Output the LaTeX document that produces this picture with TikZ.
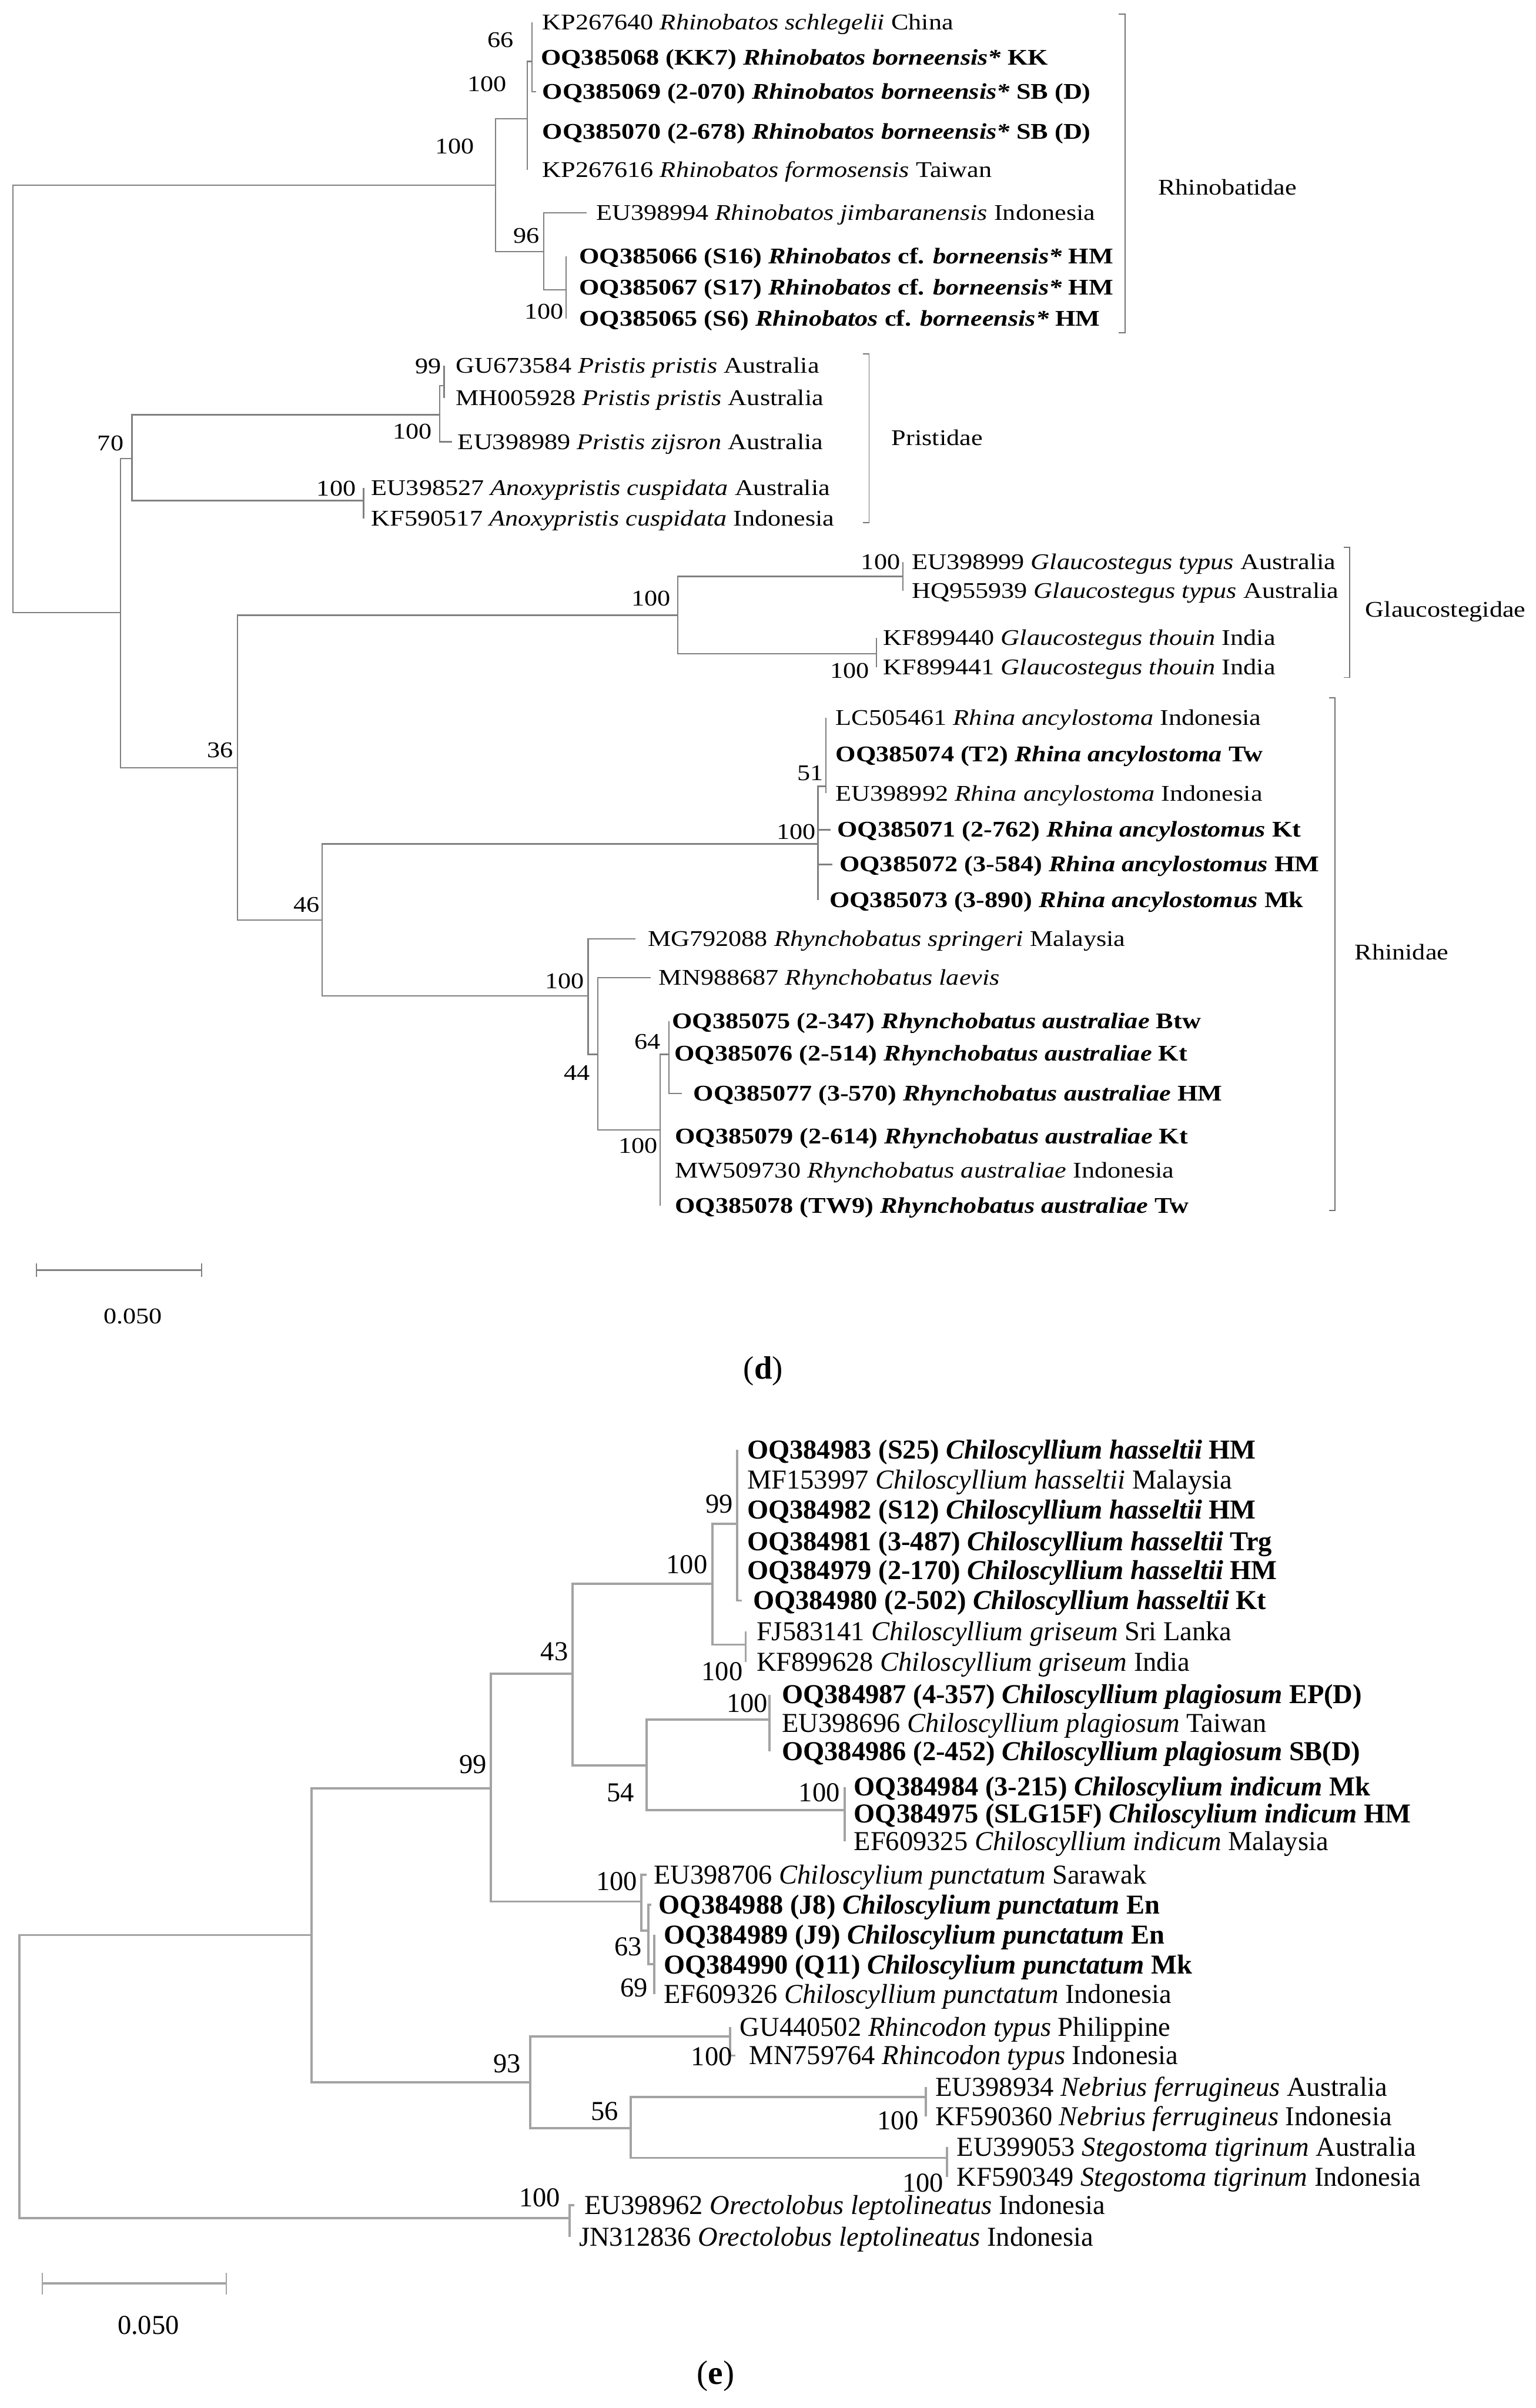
\documentclass[tikz,border=0pt]{standalone}
\usepackage{fontspec}
\setmainfont{Liberation Serif}
\newfontfamily\dfont[FakeStretch=1.16]{Liberation Serif}
\newcommand\dL[5]{\coordinate (#1) at (#2,#4); \node[dlf] (#1t) at (#3,#4) {#5};}
\newcommand\eLf[5]{\coordinate (#1) at (#2,#4); \node[elf] (#1t) at (#3,#4) {#5};}
\begin{document}
\begin{tikzpicture}[x=1pt,y=-1pt,
  dbr/.style={draw=black!50,line width=0.9pt},
  ebr/.style={draw=black!36,line width=1.5pt},
  brk/.style={draw=black!55,line width=0.7pt},
  dtx/.style={inner sep=0pt,font=\dfont\fontsize{14.6}{16}\selectfont,text height=9.6pt,text depth=0pt},
  dlf/.style={dtx,anchor=west},
  dbs/.style={dtx,anchor=center},
  etx/.style={inner sep=0pt,font=\fontsize{17.8}{20}\selectfont,text height=11.7pt,text depth=0pt},
  elf/.style={etx,anchor=west},
  ebs/.style={etx,anchor=center}]
\useasboundingbox (0,0) rectangle (1000,1568);

% ---------------- tree (d) ----------------
\dL{d1}{346.4}{353}{14.7}{KP267640 \textit{Rhinobatos schlegelii} China}
\dL{d2}{346.4}{352}{37.6}{\bfseries OQ385068 (KK7) \textit{Rhinobatos borneensis*} KK}
\dL{d3}{349}{353}{59.6}{\bfseries OQ385069 (2-070) \textit{Rhinobatos borneensis*} SB (D)}
\dL{d4}{343.3}{353}{85.6}{\bfseries OQ385070 (2-678) \textit{Rhinobatos borneensis*} SB (D)}
\dL{d5}{343.3}{353}{110.8}{KP267616 \textit{Rhinobatos formosensis} Taiwan}
\dL{d6}{382}{388}{138.5}{EU398994 \textit{Rhinobatos jimbaranensis} Indonesia}
\dL{d7}{368.7}{377}{167}{\bfseries OQ385066 (S16) \textit{Rhinobatos} cf. \textit{borneensis*} HM}
\dL{d8}{368.7}{377}{187.3}{\bfseries OQ385067 (S17) \textit{Rhinobatos} cf. \textit{borneensis*} HM}
\dL{d9}{368.7}{377}{207.6}{\bfseries OQ385065 (S6) \textit{Rhinobatos} cf. \textit{borneensis*} HM}
\dL{p1}{289.2}{296.7}{238}{GU673584 \textit{Pristis pristis} Australia}
\dL{p2}{289.2}{296.7}{259.3}{MH005928 \textit{Pristis pristis} Australia}
\dL{p3}{294.5}{298}{287.7}{EU398989 \textit{Pristis zijsron} Australia}
\dL{p4}{236.8}{241.7}{317.6}{EU398527 \textit{Anoxypristis cuspidata} Australia}
\dL{p5}{236.8}{241.7}{337.8}{KF590517 \textit{Anoxypristis cuspidata} Indonesia}
\dL{g1}{588}{593.6}{366}{EU398999 \textit{Glaucostegus typus} Australia}
\dL{g2}{588}{593.6}{384.7}{HQ955939 \textit{Glaucostegus typus} Australia}
\dL{g3}{570.7}{575}{415.5}{KF899440 \textit{Glaucostegus thouin} India}
\dL{g4}{570.7}{575}{434.5}{KF899441 \textit{Glaucostegus thouin} India}
\dL{r1}{537.8}{544}{467.3}{LC505461 \textit{Rhina ancylostoma} Indonesia}
\dL{r2}{537.8}{544}{491}{\bfseries OQ385074 (T2) \textit{Rhina ancylostoma} Tw}
\dL{r3}{537.8}{544}{516.6}{EU398992 \textit{Rhina ancylostoma} Indonesia}
\dL{r4}{541}{545}{540.3}{\bfseries OQ385071 (2-762) \textit{Rhina ancylostomus} Kt}
\dL{r5}{542}{546.5}{562.9}{\bfseries OQ385072 (3-584) \textit{Rhina ancylostomus} HM}
\dL{r6}{532.7}{540}{586}{\bfseries OQ385073 (3-890) \textit{Rhina ancylostomus} Mk}
\dL{y1}{414}{421.7}{611.4}{MG792088 \textit{Rhynchobatus springeri} Malaysia}
\dL{y2}{423.6}{428.9}{636.6}{MN988687 \textit{Rhynchobatus laevis}}
\dL{y3}{435.6}{437.5}{665}{\bfseries OQ385075 (2-347) \textit{Rhynchobatus australiae} Btw}
\dL{y4}{435.6}{439}{685.8}{\bfseries OQ385076 (2-514) \textit{Rhynchobatus australiae} Kt}
\dL{y5}{444}{451.4}{712}{\bfseries OQ385077 (3-570) \textit{Rhynchobatus australiae} HM}
\dL{y6}{430}{439.4}{740}{\bfseries OQ385079 (2-614) \textit{Rhynchobatus australiae} Kt}
\dL{y7}{430}{439.4}{762}{MW509730 \textit{Rhynchobatus australiae} Indonesia}
\dL{y8}{430}{439.4}{785}{\bfseries OQ385078 (TW9) \textit{Rhynchobatus australiae} Tw}

\coordinate (dR) at (8.5,260);
\coordinate (A) at (322.8,120.7);
\coordinate (B) at (343.3,77.3);
\coordinate (D) at (346.4,40);
\coordinate (C) at (354,163.9);
\coordinate (C1) at (368.7,188.7);
\coordinate (N70) at (78.5,399);
\coordinate (P) at (86,298.5);
\coordinate (P1) at (286.3,270.1);
\coordinate (P11) at (289.2,251);
\coordinate (P2) at (236.8,325.9);
\coordinate (N36) at (154.6,499.9);
\coordinate (G) at (441.5,400.6);
\coordinate (G1) at (588,375.4);
\coordinate (G2) at (570.7,425.6);
\coordinate (N46) at (209.7,599);
\coordinate (Rh) at (532.7,549.5);
\coordinate (Rh1) at (537.8,512);
\coordinate (Ry) at (383,648.6);
\coordinate (Ry1) at (389.2,686.5);
\coordinate (Ry2) at (430,735.8);
\coordinate (Ry3) at (435.6,686.5);

\foreach \p/\c in {dR/A,dR/N70,A/B,A/C,B/D,B/d4,B/d5,D/d1,D/d2,D/d3,C/d6,C/C1,C1/d7,C1/d8,C1/d9,
  N70/P,N70/N36,P/P1,P/P2,P1/P11,P1/p3,P11/p1,P11/p2,P2/p4,P2/p5,
  N36/G,N36/N46,G/G1,G/G2,G1/g1,G1/g2,G2/g3,G2/g4,
  N46/Rh,N46/Ry,Rh/Rh1,Rh/r4,Rh/r5,Rh/r6,Rh1/r1,Rh1/r2,Rh1/r3,
  Ry/y1,Ry/Ry1,Ry1/y2,Ry1/Ry2,Ry2/Ry3,Ry2/y6,Ry2/y7,Ry2/y8,Ry3/y3,Ry3/y4,Ry3/y5}
  \draw[dbr] (\p) |- (\c);

\node[dbs] (bd1) at (326.1,26) {66};
\node[dbs] (bd2) at (317.2,54.7) {100};
\node[dbs] (bd3) at (296,95.4) {100};
\node[dbs] (bd4) at (342.8,153.6) {96};
\node[dbs] (bd5) at (354.3,202.7) {100};
\node[dbs] (bd6) at (279,238.6) {99};
\node[dbs] (bd7) at (268.6,281) {100};
\node[dbs] (bd8) at (219,318) {100};
\node[dbs] (bd9) at (72,288.7) {70};
\node[dbs] (bd10) at (573.5,366) {100};
\node[dbs] (bd11) at (424,389.8) {100};
\node[dbs] (bd12) at (553.5,436.6) {100};
\node[dbs] (bd13) at (143.4,488.3) {36};
\node[dbs] (bd14) at (527.6,503.3) {51};
\node[dbs] (bd15) at (518.5,541.8) {100};
\node[dbs] (bd16) at (199.5,589.1) {46};
\node[dbs] (bd17) at (367.7,639) {100};
\node[dbs] (bd18) at (421.7,678.4) {64};
\node[dbs] (bd19) at (375.8,698.5) {44};
\node[dbs] (bd20) at (415.5,746) {100};

% family brackets
\coordinate (k1a) at (732.6,9.1); \coordinate (k1b) at (732.6,216.8);
\draw[brk] ([xshift=-4pt]k1a) -- (k1a) -- (k1b) -- ([xshift=-4pt]k1b);
\node[dlf] (k1t) at (754,122) {Rhinobatidae};
\coordinate (k2a) at (566,230.3); \coordinate (k2b) at (566,340.3);
\draw[brk] ([xshift=-4pt]k2a) -- (k2a) -- (k2b) -- ([xshift=-4pt]k2b);
\node[dlf] (k2t) at (580.5,285) {Pristidae};
\coordinate (k3a) at (879,356.4); \coordinate (k3b) at (879,441.2);
\draw[brk] ([xshift=-4pt]k3a) -- (k3a) -- (k3b) -- ([xshift=-4pt]k3b);
\node[dlf] (k3t) at (889,397) {Glaucostegidae};
\coordinate (k4a) at (869.5,454.4); \coordinate (k4b) at (869.5,788.3);
\draw[brk] ([xshift=-4pt]k4a) -- (k4a) -- (k4b) -- ([xshift=-4pt]k4b);
\node[dlf] (k4t) at (882,620) {Rhinidae};

% scale bar (d)
\coordinate (ds1) at (23.7,827); \coordinate (ds2) at (131.3,827);
\draw[dbr] (ds1) -- (ds2);
\draw[dbr] ([yshift=4.4pt]ds1) -- ([yshift=-4.4pt]ds1);
\draw[dbr] ([yshift=4.4pt]ds2) -- ([yshift=-4.4pt]ds2);
\node[dbs] (dsl) at (86.5,857) {0.050};
\node[font=\fontsize{21}{25}\selectfont,inner sep=0pt] (capd) at (497,893) {(\textbf{d})};

% ---------------- tree (e) ----------------
\eLf{e1}{479.9}{486.4}{944.1}{\bfseries OQ384983 (S25) \textit{Chiloscyllium hasseltii} HM}
\eLf{e2}{479.9}{486.4}{963.6}{MF153997 \textit{Chiloscyllium hasseltii} Malaysia}
\eLf{e3}{479.9}{486.4}{983.1}{\bfseries OQ384982 (S12) \textit{Chiloscyllium hasseltii} HM}
\eLf{e4}{479.9}{486.4}{1003.7}{\bfseries OQ384981 (3-487) \textit{Chiloscyllium hasseltii} Trg}
\eLf{e5}{479.9}{486.4}{1022.7}{\bfseries OQ384979 (2-170) \textit{Chiloscyllium hasseltii} HM}
\eLf{e6}{483}{490.2}{1042.2}{\bfseries OQ384980 (2-502) \textit{Chiloscyllium hasseltii} Kt}
\eLf{e7}{485.6}{492.5}{1062.2}{FJ583141 \textit{Chiloscyllium griseum} Sri Lanka}
\eLf{e8}{485.6}{492.5}{1082.3}{KF899628 \textit{Chiloscyllium griseum} India}
\eLf{e9}{501}{509}{1103.5}{\bfseries OQ384987 (4-357) \textit{Chiloscyllium plagiosum} EP(D)}
\eLf{e10}{501}{509}{1122}{EU398696 \textit{Chiloscyllium plagiosum} Taiwan}
\eLf{e11}{501}{509}{1140.5}{\bfseries OQ384986 (2-452) \textit{Chiloscyllium plagiosum} SB(D)}
\eLf{e12}{550}{555.9}{1163.6}{\bfseries OQ384984 (3-215) \textit{Chiloscylium indicum} Mk}
\eLf{e13}{550}{555.9}{1181.1}{\bfseries OQ384975 (SLG15F) \textit{Chiloscylium indicum} HM}
\eLf{e14}{550}{555.9}{1199}{EF609325 \textit{Chiloscyllium indicum} Malaysia}
\eLf{e15}{421}{425.6}{1220.7}{EU398706 \textit{Chiloscylium punctatum} Sarawak}
\eLf{e16}{424}{428.8}{1240.3}{\bfseries OQ384988 (J8) \textit{Chiloscylium punctatum} En}
\eLf{e17}{426.2}{432}{1260}{\bfseries OQ384989 (J9) \textit{Chiloscylium punctatum} En}
\eLf{e18}{426.2}{432}{1279.6}{\bfseries OQ384990 (Q11) \textit{Chiloscylium punctatum} Mk}
\eLf{e19}{426.2}{432}{1298.5}{EF609326 \textit{Chiloscyllium punctatum} Indonesia}
\eLf{e20}{475.6}{481.7}{1320}{GU440502 \textit{Rhincodon typus} Philippine}
\eLf{e21}{479}{487.8}{1338.5}{MN759764 \textit{Rhincodon typus} Indonesia}
\eLf{e22}{602.9}{609}{1359}{EU398934 \textit{Nebrius ferrugineus} Australia}
\eLf{e23}{602.9}{609}{1378}{KF590360 \textit{Nebrius ferrugineus} Indonesia}
\eLf{e24}{616.8}{622.9}{1398}{EU399053 \textit{Stegostoma tigrinum} Australia}
\eLf{e25}{616.8}{622.9}{1417.6}{KF590349 \textit{Stegostoma tigrinum} Indonesia}
\eLf{e26}{374}{380.5}{1436}{EU398962 \textit{Orectolobus leptolineatus} Indonesia}
\eLf{e27}{370.8}{376.9}{1456.6}{JN312836 \textit{Orectolobus leptolineatus} Indonesia}

\coordinate (eR) at (12.75,1350);
\coordinate (eA) at (203,1260);
\coordinate (eB) at (319.8,1164.5);
\coordinate (eC) at (372.7,1089.9);
\coordinate (eD) at (463.8,1031.4);
\coordinate (eE) at (479.9,992.3);
\coordinate (eF) at (485.6,1070.9);
\coordinate (eG) at (421,1149.5);
\coordinate (eH) at (501,1119.7);
\coordinate (eI) at (550,1178.8);
\coordinate (eJ) at (417.6,1238.2);
\coordinate (eK) at (422.4,1257);
\coordinate (eLL) at (426.2,1278.8);
\coordinate (eM) at (345.4,1355.8);
\coordinate (eN) at (475.6,1326);
\coordinate (eO) at (410.8,1385.6);
\coordinate (eP) at (602.9,1365.6);
\coordinate (eQ) at (616.8,1405.1);
\coordinate (eRo) at (370.8,1444.2);

\foreach \p/\c in {eR/eA,eR/eRo,eA/eB,eA/eM,eB/eC,eB/eJ,eC/eD,eC/eG,eD/eE,eD/eF,
  eE/e1,eE/e2,eE/e3,eE/e4,eE/e5,eE/e6,eF/e7,eF/e8,eG/eH,eG/eI,
  eH/e9,eH/e10,eH/e11,eI/e12,eI/e13,eI/e14,eJ/e15,eJ/eK,eK/e16,eK/eLL,
  eLL/e17,eLL/e18,eLL/e19,eM/eN,eM/eO,eN/e20,eN/e21,eO/eP,eO/eQ,
  eP/e22,eP/e23,eQ/e24,eQ/e25,eRo/e26,eRo/e27}
  \draw[ebr] (\p) |- (\c);

\node[ebs] (be1) at (468.4,979.3) {99};
\node[ebs] (be2) at (447.3,1018.9) {100};
\node[ebs] (be3) at (470.3,1088.3) {100};
\node[ebs] (be4) at (361,1075.3) {43};
\node[ebs] (be5) at (486.6,1109.1) {100};
\node[ebs] (be6) at (404,1167.2) {54};
\node[ebs] (be7) at (533.5,1167.2) {100};
\node[ebs] (be8) at (308,1149) {99};
\node[ebs] (be9) at (401.7,1224.9) {100};
\node[ebs] (be10) at (409,1267.7) {63};
\node[ebs] (be11) at (412.8,1294.3) {69};
\node[ebs] (be12) at (330.2,1343.9) {93};
\node[ebs] (be13) at (463.5,1339) {100};
\node[ebs] (be14) at (393.8,1374.8) {56};
\node[ebs] (be15) at (584.7,1380.8) {100};
\node[ebs] (be16) at (601,1421.5) {100};
\node[ebs] (be17) at (351.4,1431.2) {100};

% scale bar (e)
\coordinate (es1) at (27.6,1487); \coordinate (es2) at (147.3,1487);
\draw[ebr] (es1) -- (es2);
\draw[ebr,line width=0.8pt] ([yshift=7pt]es1) -- ([yshift=-7pt]es1);
\draw[ebr,line width=0.8pt] ([yshift=7pt]es2) -- ([yshift=-7pt]es2);
\node[ebs] (esl) at (96.6,1514.2) {0.050};
\node[font=\fontsize{22}{26}\selectfont,inner sep=0pt] (cape) at (466,1547) {(\textbf{e})};
\end{tikzpicture}
\end{document}
